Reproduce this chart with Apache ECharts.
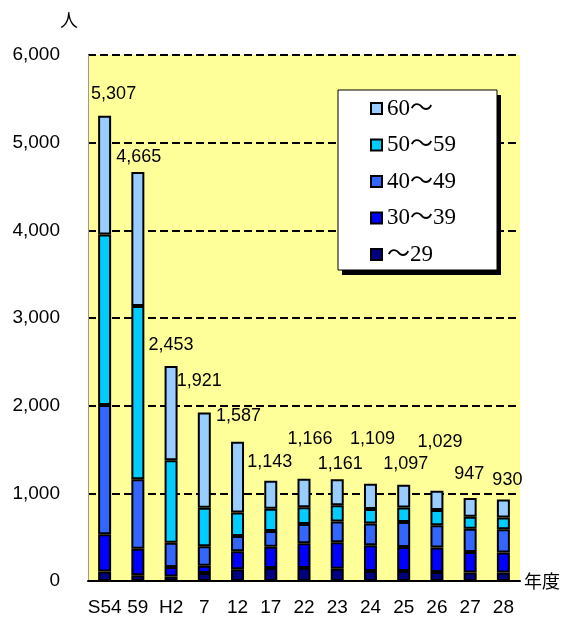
<!DOCTYPE html>
<html>
<head>
<meta charset="utf-8">
<script src="https://cdn.jsdelivr.net/npm/echarts@6/dist/echarts.min.js"></script>
<style>
  html, body { margin: 0; padding: 0; background: #ffffff; }
  #chart { width: 564px; height: 621px; }
</style>
</head>
<body>
<div id="chart"></div>
<script>
// 年度別・年齢階層別の人数
const years = ['S54', '59', 'H2', '7', '12', '17', '22', '23', '24', '25', '26', '27', '28'];
const age60 = [1354, 1529, 1075, 1086, 807, 318, 326, 298, 287, 260, 219, 213, 207];
const age50 = [1945, 1976, 941, 440, 267, 255, 190, 185, 166, 164, 175, 137, 133];
const age40 = [1475, 792, 277, 220, 175, 180, 220, 236, 249, 285, 254, 266, 266];
const age30 = [425, 303, 110, 85, 205, 243, 281, 301, 293, 274, 278, 235, 228];
const age29 = [108, 65, 50, 90, 133, 147, 149, 141, 114, 114, 103, 96, 96];
const yTicks = [0, 1000, 2000, 3000, 4000, 5000, 6000];

const groups = [
  { name: '～29',   data: age29, color: '#000080' },
  { name: '30～39', data: age30, color: '#0000FF' },
  { name: '40～49', data: age40, color: '#3366FF' },
  { name: '50～59', data: age50, color: '#00CCFF' },
  { name: '60～',   data: age60, color: '#99CCFF' }
];

const totals = years.map((_, i) => groups.reduce((s, g) => s + g.data[i], 0));
const fmt = v => String(v).replace(/\B(?=(\d{3})+(?!\d))/g, ',');

// 合計ラベルの重なりを避けるための位置調整 [dx, dy]
const labelNudge = [
  [9, -8], [1, -1], [0, -7], [-5, -18], [1, -12], [-1, -5], [6, -26],
  [3, -1], [2, -31], [2, -7], [3, -35], [-1, -10], [4, -5]
];

const numFont = 'Liberation Sans, Noto Sans CJK JP, sans-serif';

const series = groups.map((g, gi) => {
  const isTop = gi === groups.length - 1;
  return {
    name: g.name,
    type: 'bar',
    stack: 'total',
    barWidth: 13,
    itemStyle: { color: g.color, borderColor: '#000000', borderWidth: 2 },
    data: g.data.map((v, i) => {
      if (!isTop) return v;
      return {
        value: v,
        label: { offset: labelNudge[i] }
      };
    }),
    label: isTop ? {
      show: true,
      position: 'top',
      distance: 5,
      color: '#000000',
      fontSize: 18,
      fontFamily: numFont,
      formatter: p => fmt(totals[p.dataIndex])
    } : { show: false },
    emphasis: { disabled: true }
  };
});

// 凡例の枠（影付き）
const legendBox = { x: 338, y: 90, w: 159, h: 180 };

const chart = echarts.init(document.getElementById('chart'), null, { renderer: 'canvas' });
chart.setOption({
  animation: false,
  backgroundColor: '#ffffff',
  grid: {
    left: 88, right: 44, top: 55, bottom: 40,
    show: true, backgroundColor: '#FFFF99', borderWidth: 0
  },
  graphic: [
    {
      type: 'rect', z: 3, silent: true,
      shape: { x: legendBox.x + 4, y: legendBox.y + 5, width: legendBox.w, height: legendBox.h },
      style: { fill: '#000000' }
    },
    {
      type: 'rect', z: 3, silent: true,
      shape: { x: legendBox.x, y: legendBox.y, width: legendBox.w, height: legendBox.h },
      style: { fill: '#ffffff', stroke: '#000000', lineWidth: 1 }
    }
  ],
  legend: {
    orient: 'vertical',
    left: 370, top: 97,
    data: ['60～', '50～59', '40～49', '30～39', '～29'],
    icon: 'rect',
    itemWidth: 11, itemHeight: 11,
    itemGap: 13.5,
    padding: 0,
    textStyle: {
      fontFamily: 'Liberation Serif, DejaVu Serif, Noto Sans CJK JP, serif',
      fontSize: 23, color: '#000000', lineHeight: 23
    },
    selectedMode: false
  },
  xAxis: [
    {
      type: 'category',
      data: years,
      z: 3,
      name: '年度',
      nameLocation: 'end',
      nameGap: 4,
      nameTextStyle: { fontFamily: 'Noto Sans CJK JP', fontSize: 18, color: '#000000' },
      axisLine: { lineStyle: { color: '#000000', width: 2 } },
      axisTick: { inside: true, length: 5, lineStyle: { color: '#000000', width: 2 } },
      axisLabel: { margin: 17, fontSize: 19, fontFamily: numFont, color: '#000000', interval: 0 }
    },
    {
      type: 'category',
      data: years,
      position: 'bottom',
      z: 3,
      axisLine: { show: false },
      axisTick: { inside: true, alignWithLabel: true, length: 5, lineStyle: { color: '#000000', width: 2 } },
      axisLabel: { show: false }
    }
  ],
  yAxis: {
    type: 'value',
    min: yTicks[0],
    max: yTicks[yTicks.length - 1],
    interval: 1000,
    name: '人',
    nameLocation: 'end',
    nameGap: 26,
    nameTextStyle: { fontFamily: 'Noto Sans CJK JP', fontSize: 18, color: '#000000', align: 'right', padding: [0, 10, 0, 0] },
    axisLine: { show: true, lineStyle: { color: '#999999', width: 1 } },
    axisTick: { show: false },
    axisLabel: { margin: 28, fontSize: 19, fontFamily: numFont, color: '#000000', formatter: v => fmt(v) },
    splitLine: { show: true, lineStyle: { color: '#000000', width: 2, type: [8, 4] } }
  },
  series: series
});
</script>
</body>
</html>
